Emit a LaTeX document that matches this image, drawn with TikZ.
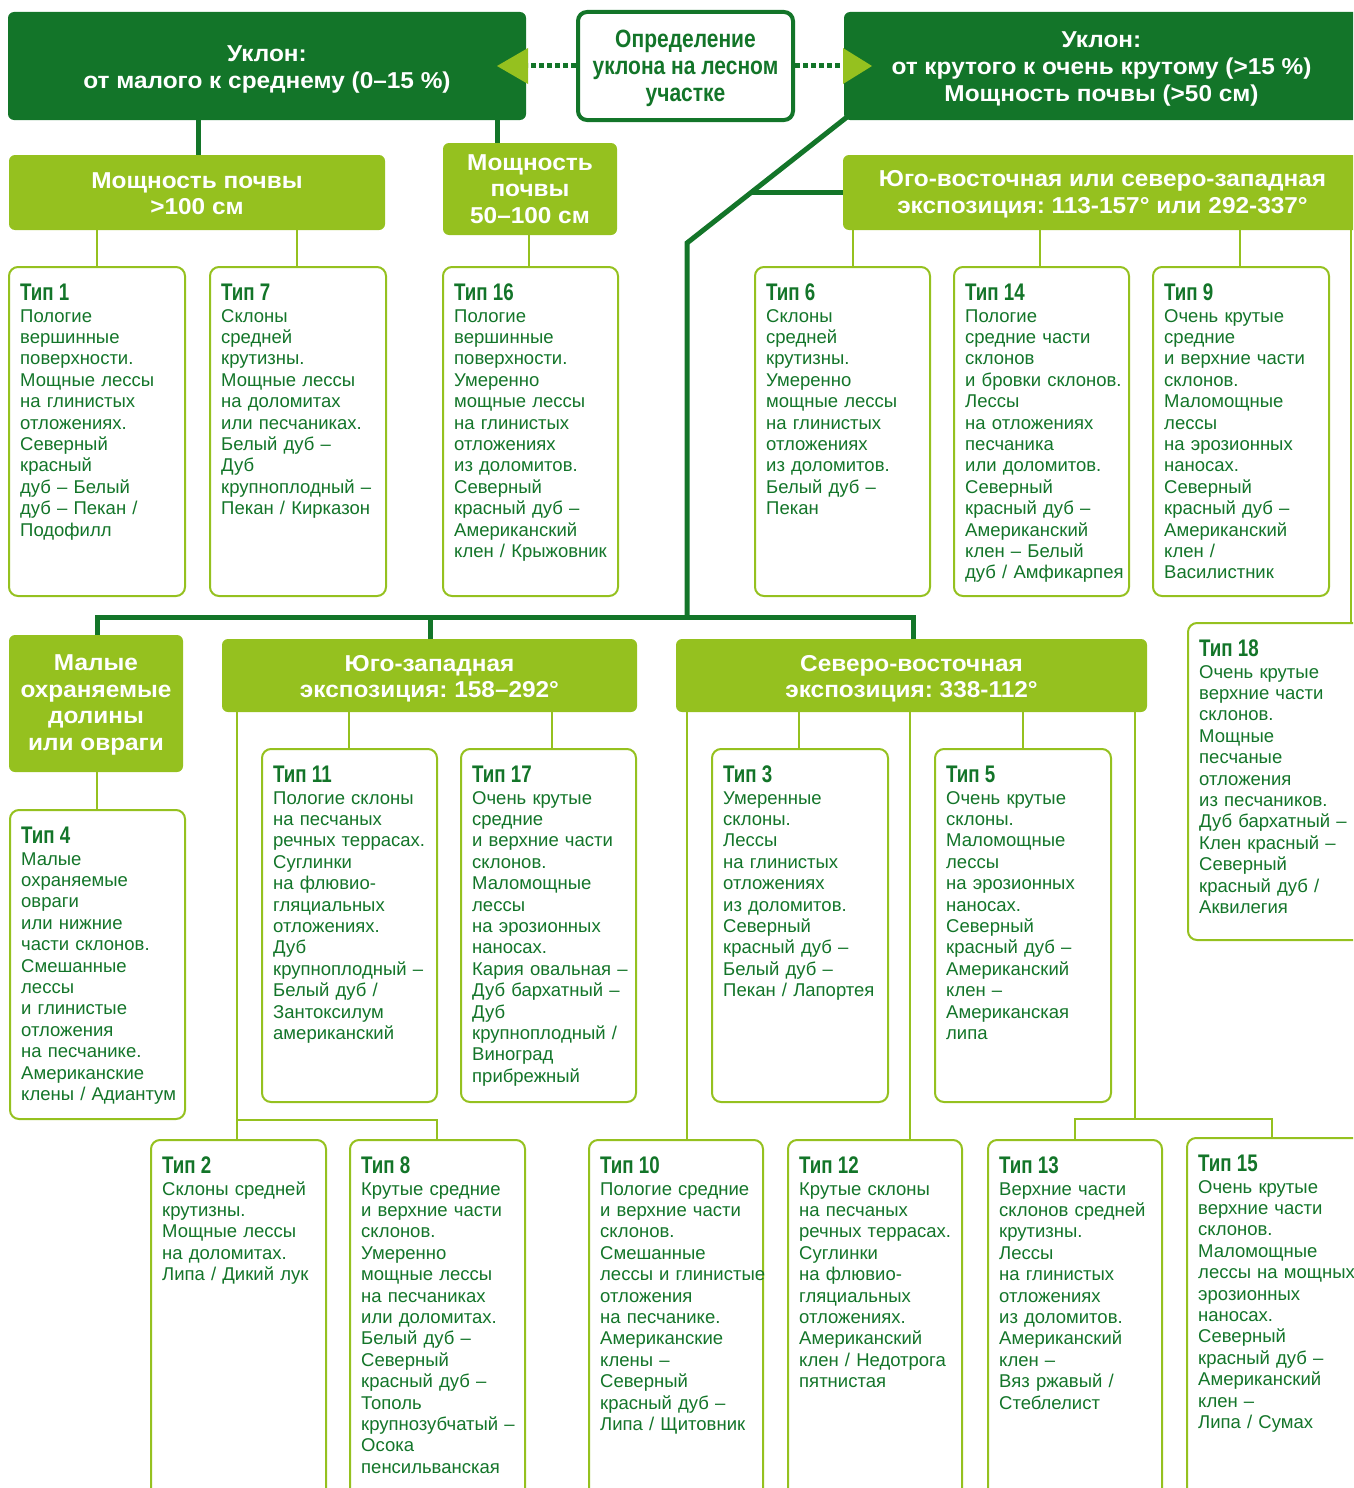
\documentclass[tikz,border=0pt]{standalone}
\usepackage{fontspec}
\setmainfont{Liberation Sans}
\newfontfamily\narrowfont{Liberation Sans}[FakeStretch=0.78]
\newfontfamily\midfont{Liberation Sans}[FakeStretch=0.84]
\newfontfamily\widefont{Liberation Sans}[FakeStretch=1.06]
\usetikzlibrary{calc,backgrounds}
\definecolor{dkgreen}{RGB}{19,117,41}
\definecolor{ltgreen}{RGB}{149,193,31}

\tikzset{
  hdark/.style={fill=dkgreen, rounded corners=6pt, inner sep=0pt},
  hlight/.style={fill=ltgreen, rounded corners=6pt, inner sep=0pt},
  htext/.style={text=white, align=center, inner sep=0pt,
    font=\widefont\bfseries\fontsize{23}{27}\selectfont},
  ltext/.style={text=white, align=center, inner sep=0pt,
    font=\widefont\bfseries\fontsize{23}{26.5}\selectfont},
  hcenter/.style={draw=dkgreen, fill=white, line width=4pt, rounded corners=9pt, inner sep=0pt},
  ctext/.style={text=dkgreen, align=center, inner sep=0pt,
    font=\midfont\bfseries\fontsize{25}{27}\selectfont},
  tbox/.style={draw=ltgreen, fill=white, line width=2pt, rounded corners=9pt, inner sep=0pt},
  ttl/.style={anchor=base west, inner sep=0pt, text=dkgreen,
    font=\narrowfont\bfseries\fontsize{24}{26}\selectfont},
  tbody/.style={anchor=base west, inner sep=0pt, text=dkgreen, text width=300pt, align=left,
    font=\fontsize{18.5}{21.4}\selectfont},
  thickc/.style={draw=dkgreen, line width=5pt},
  thinc/.style={draw=ltgreen, line width=2pt},
  dotc/.style={draw=dkgreen, line width=5pt, dash pattern=on 5pt off 3pt},
}

% #1 name, #2 left, #3 top, #4 right, #5 bottom, #6 number, #7 description
\newcommand\typebox[7]{%
  \node[tbox, anchor=north west, minimum width={#4-#2}, minimum height={#5-#3}] (#1) at (#2,#3) {};
  \node[ttl] (#1t) at ($(#1.north west)+(12,34)$) {Тип #6};
  \node[tbody] (#1b) at ($(#1.north west)+(12,56)$) {#7};
}

\begin{document}
\frenchspacing
\begin{tikzpicture}[x=1pt,y=-1pt]
\useasboundingbox (0,0) rectangle (1353,1488);
\clip (0,0) rectangle (1353,1488);

% ---------- headers ----------
\node[hdark, minimum width=518pt, minimum height=108pt] (A) at (267,66) {};
\node[htext] (At) at ([yshift=-3pt]A.center) {Уклон:\\от малого к среднему (0–15~\%)};
\node[hdark, minimum width=515pt, minimum height=108pt] (B) at (1101.5,66) {};
\node[htext] (Bt) at ([yshift=-2.5pt]B.center)
  {Уклон:\\от крутого к очень крутому (>15~\%)\\Мощность почвы (>50 см)};
\node[hcenter, minimum width=215pt, minimum height=108pt] (def) at (685.5,66) {};
\node[ctext] (deft) at ([yshift=-2.5pt]def.center) {Определение\\уклона на лесном\\участке};

\node[hlight, minimum width=376pt, minimum height=75pt] (C1) at (197,192.5) {};
\node[ltext] (C1t) at ([yshift=-1pt]C1.center) {Мощность почвы\\>100 см};
\node[hlight, minimum width=174pt, minimum height=92pt] (C2) at (530,189) {};
\node[ltext] (C2t) at (C2.center) {Мощность\\почвы\\50–100 см};
\node[hlight, minimum width=519pt, minimum height=75pt] (C3) at (1102.5,192.5) {};
\node[ltext] (C3t) at ([yshift=-2pt]C3.center)
  {Юго-восточная или северо-западная\\экспозиция: 113-157° или 292-337°};

\node[hlight, minimum width=174pt, minimum height=137pt] (D1) at (96,703.5) {};
\node[ltext] (D1t) at ([yshift=-1.5pt]D1.center) {Малые\\охраняемые\\долины\\или овраги};
\node[hlight, minimum width=415pt, minimum height=73pt] (D2) at (429.5,675.5) {};
\node[ltext] (D2t) at ([yshift=-3.5pt]D2.center) {Юго-западная\\экспозиция: 158–292°};
\node[hlight, minimum width=471pt, minimum height=73pt] (D3) at (911.5,675.5) {};
\node[ltext] (D3t) at ([yshift=-3.5pt]D3.center) {Северо-восточная\\экспозиция: 338-112°};

% ---------- dotted links with triangular heads ----------
\coordinate (triL) at (528,66);
\coordinate (triR) at (843,66);
\draw[dotc] (def.west) -- (triL);
\draw[dotc] (def.east) -- (triR);
\fill[ltgreen] (497,66) -- (528,48) -- (528,84) -- cycle;
\fill[ltgreen] (843,48) -- (872,66) -- (843,84) -- cycle;

% ---------- type boxes ----------
\typebox{t1}{8}{266}{184}{595}{1}{Пологие\\вершинные\\поверхности.\\Мощные лессы\\на глинистых\\отложениях.\\Северный\\красный\\дуб – Белый\\дуб – Пекан /\\Подофилл}
\typebox{t7}{209}{266}{385}{595}{7}{Склоны\\средней\\крутизны.\\Мощные лессы\\на доломитах\\или песчаниках.\\Белый дуб –\\Дуб\\крупноплодный –\\Пекан / Кирказон}
\typebox{t16}{442}{266}{617}{595}{16}{Пологие\\вершинные\\поверхности.\\Умеренно\\мощные лессы\\на глинистых\\отложениях\\из доломитов.\\Северный\\красный дуб –\\Американский\\клен / Крыжовник}
\typebox{t6}{754}{266}{929}{595}{6}{Склоны\\средней\\крутизны.\\Умеренно\\мощные лессы\\на глинистых\\отложениях\\из доломитов.\\Белый дуб –\\Пекан}
\typebox{t14}{953}{266}{1128}{595}{14}{Пологие\\средние части\\склонов\\и бровки склонов.\\Лессы\\на отложениях\\песчаника\\или доломитов.\\Северный\\красный дуб –\\Американский\\клен – Белый\\дуб / Амфикарпея}
\typebox{t9}{1152}{266}{1328}{595}{9}{Очень крутые\\средние\\и верхние части\\склонов.\\Маломощные\\лессы\\на эрозионных\\наносах.\\Северный\\красный дуб –\\Американский\\клен /\\Василистник}
\typebox{t18}{1187}{622}{1370}{939}{18}{Очень крутые\\верхние части\\склонов.\\Мощные\\песчаные\\отложения\\из песчаников.\\Дуб бархатный –\\Клен красный –\\Северный\\красный дуб /\\Аквилегия}
\typebox{t4}{9}{809}{184}{1118}{4}{Малые\\охраняемые\\овраги\\или нижние\\части склонов.\\Смешанные\\лессы\\и глинистые\\отложения\\на песчанике.\\Американские\\клены / Адиантум}
\typebox{t11}{261}{748}{436}{1101}{11}{Пологие склоны\\на песчаных\\речных террасах.\\Суглинки\\на флювио-\\гляциальных\\отложениях.\\Дуб\\крупноплодный –\\Белый дуб /\\Зантоксилум\\американский}
\typebox{t17}{460}{748}{635}{1101}{17}{Очень крутые\\средние\\и верхние части\\склонов.\\Маломощные\\лессы\\на эрозионных\\наносах.\\Кария овальная –\\Дуб бархатный –\\Дуб\\крупноплодный /\\Виноград\\прибрежный}
\typebox{t3}{711}{748}{887}{1101}{3}{Умеренные\\склоны.\\Лессы\\на глинистых\\отложениях\\из доломитов.\\Северный\\красный дуб –\\Белый дуб –\\Пекан / Лапортея}
\typebox{t5}{934}{748}{1110}{1101}{5}{Очень крутые\\склоны.\\Маломощные\\лессы\\на эрозионных\\наносах.\\Северный\\красный дуб –\\Американский\\клен –\\Американская\\липа}
\typebox{t2}{150}{1139}{325}{1500}{2}{Склоны средней\\крутизны.\\Мощные лессы\\на доломитах.\\Липа / Дикий лук}
\typebox{t8}{349}{1139}{524}{1500}{8}{Крутые средние\\и верхние части\\склонов.\\Умеренно\\мощные лессы\\на песчаниках\\или доломитах.\\Белый дуб –\\Северный\\красный дуб –\\Тополь\\крупнозубчатый –\\Осока\\пенсильванская}
\typebox{t10}{588}{1139}{762}{1500}{10}{Пологие средние\\и верхние части\\склонов.\\Смешанные\\лессы и глинистые\\отложения\\на песчанике.\\Американские\\клены –\\Северный\\красный дуб –\\Липа / Щитовник}
\typebox{t12}{787}{1139}{961}{1500}{12}{Крутые склоны\\на песчаных\\речных террасах.\\Суглинки\\на флювио-\\гляциальных\\отложениях.\\Американский\\клен / Недотрога\\пятнистая}
\typebox{t13}{987}{1139}{1161}{1500}{13}{Верхние части\\склонов средней\\крутизны.\\Лессы\\на глинистых\\отложениях\\из доломитов.\\Американский\\клен –\\Вяз ржавый /\\Стеблелист}
\typebox{t15}{1186}{1137}{1370}{1500}{15}{Очень крутые\\верхние части\\склонов.\\Маломощные\\лессы на мощных\\эрозионных\\наносах.\\Северный\\красный дуб –\\Американский\\клен –\\Липа / Сумах}

% ---------- connectors, behind the boxes ----------
\begin{pgfonlayer}{background}
  % thick dark links
  \draw[thickc] (198,0 |- A.south) -- (198,0 |- C1.north);
  \draw[thickc] (497,0 |- A.south) -- (497,0 |- C2.north);
  \coordinate (dstart) at (847,117);
  \coordinate (bend) at (687,243);
  \coordinate (busY) at (0,617);
  \draw[thickc] (dstart) -- (bend) -- (bend |- busY);
  \coordinate (brk) at ($(dstart)!0.6!(bend)$);
  \draw[thickc] (brk) -- (brk -| C3.west);
  \draw[thickc] (97,0 |- D1.north) -- (97,617) -- (913,617) -- (913,0 |- D3.north);
  \draw[thickc] (430,617) -- (430,0 |- D2.north);
  % thin light links
  \draw[thinc] (97,0 |- C1.south) -- (97,0 |- t1.north);
  \draw[thinc] (297,0 |- C1.south) -- (297,0 |- t7.north);
  \draw[thinc] (529,0 |- C2.south) -- (529,0 |- t16.north);
  \draw[thinc] (853,0 |- C3.south) -- (853,0 |- t6.north);
  \draw[thinc] (1040,0 |- C3.south) -- (1040,0 |- t14.north);
  \draw[thinc] (1240,0 |- C3.south) -- (1240,0 |- t9.north);
  \draw[thinc] (1351,0 |- C3.south) -- (1351,0 |- t18.north);
  \draw[thinc] (97,0 |- D1.south) -- (97,0 |- t4.north);
  \draw[thinc] (349,0 |- D2.south) -- (349,0 |- t11.north);
  \draw[thinc] (552,0 |- D2.south) -- (552,0 |- t17.north);
  \draw[thinc] (237,0 |- D2.south) -- (237,0 |- t2.north);
  \draw[thinc] (237,1120) -- (437,1120) -- (437,0 |- t8.north);
  \draw[thinc] (799,0 |- D3.south) -- (799,0 |- t3.north);
  \draw[thinc] (1023,0 |- D3.south) -- (1023,0 |- t5.north);
  \draw[thinc] (687,0 |- D3.south) -- (687,0 |- t10.north);
  \draw[thinc] (910,0 |- D3.south) -- (910,0 |- t12.north);
  \draw[thinc] (1135,0 |- D3.south) -- (1135,1119);
  \draw[thinc] (1075,0 |- t13.north) -- (1075,1119) -- (1272,1119) -- (1272,0 |- t15.north);
\end{pgfonlayer}

\end{tikzpicture}
\end{document}
